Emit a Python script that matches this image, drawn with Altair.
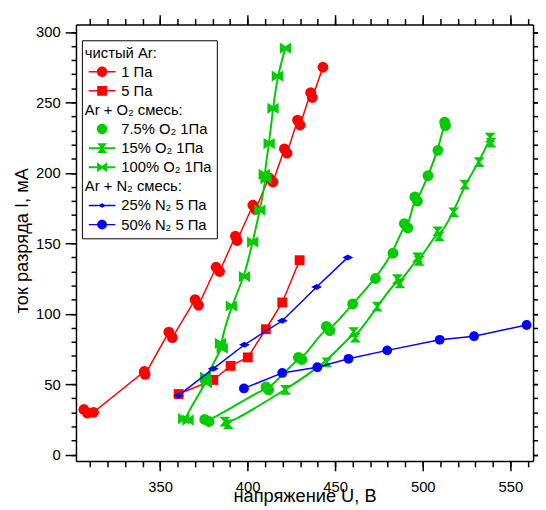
import altair as alt
import pandas as pd

# discharge current I (mA) vs voltage U (V)
ar1_u = [306.5, 308.5, 312, 341, 341.5, 355, 357, 370, 372, 382, 384, 393, 394,
         403, 404.5, 412.2, 414.5, 421, 422.5, 428.5, 430, 436, 437, 443]
ar1_i = [32, 29.5, 30, 59, 57, 87, 83, 110, 106, 133, 130, 155, 152,
         177, 174, 196.5, 193.5, 217, 214, 237.5, 234, 257, 253.5, 275]

ar5_u = [360.6, 380.4, 390.3, 400.1, 410.4, 419.8, 429.7]
ar5_i = [43, 53, 63, 69, 89, 108, 138]

o2_75_u = [375.5, 378, 410.5, 412, 429, 431, 445, 447, 460, 473, 483,
           489.5, 491.5, 495.5, 497, 503, 508.7, 512.5, 513]
o2_75_i = [25, 23.5, 48, 46, 69, 67.5, 91, 88, 107, 125, 143,
           164, 161, 183, 180, 198, 216, 236, 233.5]

o2_15_u = [387, 389, 421.6, 445.2, 460.5, 461.5, 474, 485.5, 487, 497, 498,
           508.5, 509.5, 517.7, 524, 532.2, 538.5, 539]
o2_15_i = [23.5, 21.5, 46, 65.5, 87, 83, 105, 124.5, 121.5, 140, 137.5,
           158.5, 155, 172, 191.7, 207.6, 225, 221.5]

o2_100_u = [366, 363.5, 376.5, 376, 385.5, 384.5, 390.7, 398.2, 402.9, 407,
            410.5, 409.5, 412.3, 414.5, 417, 421.6]
o2_100_i = [24.5, 25.5, 51, 55, 75.5, 79, 105.5, 126.4, 150.9, 173.5,
            196, 199, 220.8, 245.8, 268.7, 288.5]

n2_25_u = [360.6, 380.4, 398.2, 419.8, 439.4, 457.2]
n2_25_i = [42, 61, 78, 95, 119, 140]

n2_50_u = [397.9, 419.8, 439.8, 457.6, 479.7, 509.7, 529.3, 559.3]
n2_50_i = [47, 58, 62, 68, 74, 81.5, 84, 92]

legend_names = ["чистый Ar:", "1 Па", "5 Па",
                "Ar + O₂ смесь:", "7.5% O₂ 1Па", "15% O₂ 1Па", "100% O₂ 1Па",
                "Ar + N₂ смесь:", "25% N₂ 5 Па", "50% N₂ 5 Па"]

RED, GREEN, BLUE = "#ff0000", "#00cc00", "#0000ff"
FONT = "Liberation Sans"

xs = alt.Scale(domain=[302, 563], nice=False, zero=False)
ys = alt.Scale(domain=[-4.5, 305.3], nice=False, zero=False)

# marker shapes on the plot
HOURGLASS = "M-1,-0.9H1L0.2,0L1,0.9H-1L-0.2,0Z"
BOWTIE = "M-1,-1L0,-0.35L1,-1V1L0,0.35L-1,1Z"
DIAMOND = "M-1,0L0,-0.55L1,0L0,0.55Z"


def seg(h, r):
    # line either side of the legend marker (legend symbol units are px)
    return f"M-13.5,-{h}H-{r}V{h}H-13.5Z M{r},-{h}H13.5V{h}H{r}Z "


def circ(r):
    return f"M-{r},0A{r},{r} 0 1,1 {r},0A{r},{r} 0 1,1 -{r},0Z"


legend_shapes = [
    "circle",
    seg(0.75, 5.3) + circ(5.3),
    seg(0.75, 5) + "M-5,-5H5V5H-5Z",
    "circle",
    circ(5.3),
    seg(1, 1.2) + "M-5,-5H5L1,0L5,5H-5L-1,0Z",
    seg(1, 5) + "M-5,-5L0,-1.3L5,-5V5L0,1.3L-5,5Z",
    "circle",
    seg(0.75, 4) + "M-4.5,0L0,-2.2L4.5,0L0,2.2Z",
    seg(0.75, 5) + circ(5),
]
legend_colors = ["transparent", RED, RED, "transparent", GREEN, GREEN, GREEN,
                 "transparent", BLUE, BLUE]

series = [
    ("1 Па", ar1_u, ar1_i, RED, "circle", 121, 1.5, "linear"),
    ("5 Па", ar5_u, ar5_i, RED, "square", 100, 1.5, "linear"),
    ("7.5% O₂ 1Па", o2_75_u, o2_75_i, GREEN, "circle", 121, 2, "basis"),
    ("15% O₂ 1Па", o2_15_u, o2_15_i, GREEN, HOURGLASS, 121, 2, "basis"),
    ("100% O₂ 1Па", o2_100_u, o2_100_i, GREEN, BOWTIE, 130, 2, "basis"),
    ("25% N₂ 5 Па", n2_25_u, n2_25_i, BLUE, DIAMOND, 121, 1.5, "linear"),
    ("50% N₂ 5 Па", n2_50_u, n2_50_i, BLUE, "circle", 100, 1.5, "linear"),
]

tick_style = dict(tickColor="black", tickWidth=1.5, domainColor="black",
                  domainWidth=1.5, grid=False)
major_u = list(range(350, 551, 50))
minor_u = list(range(310, 561, 10))
major_i = list(range(0, 301, 50))
minor_i = list(range(0, 301, 10))

axis_df = pd.DataFrame({"u": [350], "i": [0]})


def axis_layer(xaxis, yaxis):
    return alt.Chart(axis_df).mark_point(opacity=0).encode(
        x=alt.X("u:Q", scale=xs, axis=xaxis),
        y=alt.Y("i:Q", scale=ys, axis=yaxis),
    )


axes = [
    axis_layer(
        alt.Axis(orient="bottom", values=major_u, tickSize=10, labelFont=FONT,
                 labelFontSize=15, labelColor="black", labelPadding=9,
                 labelFlush=False, title="напряжение U, В", titleFont=FONT,
                 titleFontSize=18.5, titleFontWeight="normal", titleColor="black",
                 titleY=41, titleBaseline="alphabetic", **tick_style),
        alt.Axis(orient="left", values=major_i, tickSize=11, labelFont=FONT,
                 labelFontSize=15, labelColor="black", labelPadding=5,
                 labelFlush=False, title="ток разряда I, мА", titleFont=FONT,
                 titleFontSize=18.5, titleFontWeight="normal", titleColor="black",
                 titleX=-49, titleY=219, titleBaseline="alphabetic", **tick_style),
    ),
    axis_layer(
        alt.Axis(orient="bottom", values=minor_u, tickSize=6, labels=False,
                 domain=False, title="", **tick_style),
        alt.Axis(orient="left", values=minor_i, tickSize=5, labels=False,
                 domain=False, title="", **tick_style),
    ),
    axis_layer(
        alt.Axis(orient="top", values=major_u, tickSize=10, labels=False,
                 title="", **tick_style),
        alt.Axis(orient="right", values=major_i, tickSize=10, labels=False,
                 title="", **tick_style),
    ),
    axis_layer(
        alt.Axis(orient="top", values=minor_u, tickSize=6, labels=False,
                 domain=False, title="", **tick_style),
        alt.Axis(orient="right", values=minor_i, tickSize=5, labels=False,
                 domain=False, title="", **tick_style),
    ),
]

layers = []
for name, u, i, color, shape, size, lw, interp in series:
    df = pd.DataFrame({"u": u, "i": i, "k": range(len(u))})
    base = alt.Chart(df).encode(
        x=alt.X("u:Q", scale=xs, axis=None),
        y=alt.Y("i:Q", scale=ys, axis=None),
        order="k:Q",
    )
    layers.append(base.mark_line(color=color, strokeWidth=lw, interpolate=interp))
    layers.append(base.mark_point(shape=shape, size=size, filled=True,
                                  color=color, opacity=1, strokeWidth=0))

# group headers pulled to the left edge, series names pushed past the symbol
leg = alt.Legend(
    title=None, orient="none", legendX=6, legendY=16, padding=5,
    strokeColor="black", fillColor="white", symbolSize=4, symbolOffset=8,
    symbolStrokeWidth=0, labelFont=FONT, labelFontSize=15, labelColor="black",
    labelOffset={"expr": "slice(datum.value, -1) == ':' ? -25 : 12"},
    rowPadding=3.4, labelLimit=300,
)

legend_layer = alt.Chart(pd.DataFrame({"name": legend_names})).mark_point(
    filled=True, opacity=1
).encode(
    color=alt.Color("name:N", scale=alt.Scale(domain=legend_names, range=legend_colors), legend=leg),
    shape=alt.Shape("name:N", scale=alt.Scale(domain=legend_names, range=legend_shapes), legend=leg),
).transform_filter("false")

chart = (
    alt.layer(*axes, *layers, legend_layer)
    .resolve_axis(x="independent", y="independent")
    .properties(
        width=464, height=443,
        autosize=alt.AutoSizeParams(type="none"),
        padding={"left": 69, "top": 13, "right": 5, "bottom": 46},
    )
    .configure_view(stroke=None)
)

chart.save("out.html", embed_options={"renderer": "svg", "actions": False})
